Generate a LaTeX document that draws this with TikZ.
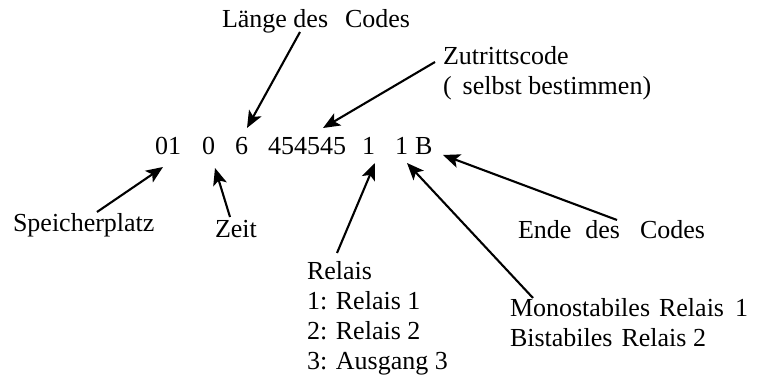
\documentclass[tikz,border=0pt]{standalone}
\usepackage{fontspec}
\setmainfont{Liberation Serif}
\usetikzlibrary{arrows.meta}
\begin{document}
\begin{tikzpicture}[x=1pt,y=-1pt,
  lbl/.style={anchor=base west,inner sep=0pt,outer sep=0pt,font=\fontsize{26}{30}\selectfont},
  arr/.style={line width=2.1pt,-{Stealth[length=17pt,width=14pt,inset=4pt]}}]
\useasboundingbox (0,0) rectangle (761,379);
% code line
\node[lbl] (c01) at (155,155) {01};
\node[lbl] (c0) at (202,155) {0};
\node[lbl] (c6) at (235,155) {6};
\node[lbl] (ccode) at (268,155) {454545};
\node[lbl] (crel) at (362,155) {1};
\node[lbl] (cmode) at (395,155) {1};
\node[lbl] (cB) at (415,155) {B};
% labels
\node[lbl] (laenge) at (222,28) {Länge des\hspace{17pt}Codes};
\node[lbl] (zut1) at (443,65) {Zutrittscode};
\node[lbl] (zut2) at (443,95) {(\hspace{11pt}selbst bestimmen)};
\node[lbl] (speicher) at (13,232) {Speicherplatz};
\node[lbl] (zeit) at (215,238) {Zeit};
\node[lbl] (rel0) at (307,280) {Relais};
\node[lbl] (rel1) at (307,310) {1: Relais 1};
\node[lbl] (rel2) at (307,340) {2: Relais 2};
\node[lbl] (rel3) at (307,370) {3: Ausgang 3};
\node[lbl] (ende) at (518,239) {Ende\hspace{14pt}des\hspace{20pt}Codes};
\node[lbl] (mono) at (510,317) {Monostabiles\hspace{9pt}Relais\hspace{11pt}1};
\node[lbl] (bist) at (510,347) {Bistabiles\hspace{9pt}Relais 2};
% arrow endpoints
\coordinate (sL) at (300,32);  \coordinate (tL) at (247,128);
\coordinate (sZ) at (435,62);  \coordinate (tZ) at (323,128);
\coordinate (sS) at (97,212);  \coordinate (tS) at (163,167);
\coordinate (sT) at (230,217); \coordinate (tT) at (215,168);
\coordinate (sR) at (337,253); \coordinate (tR) at (375,163);
\coordinate (sM) at (533,298); \coordinate (tM) at (407,163);
\coordinate (sE) at (617,220); \coordinate (tE) at (443,155);
\draw[arr] (sL) -- (tL);
\draw[arr] (sZ) -- (tZ);
\draw[arr] (sS) -- (tS);
\draw[arr] (sT) -- (tT);
\draw[arr] (sR) -- (tR);
\draw[arr] (sM) -- (tM);
\draw[arr] (sE) -- (tE);
\end{tikzpicture}
\end{document}
